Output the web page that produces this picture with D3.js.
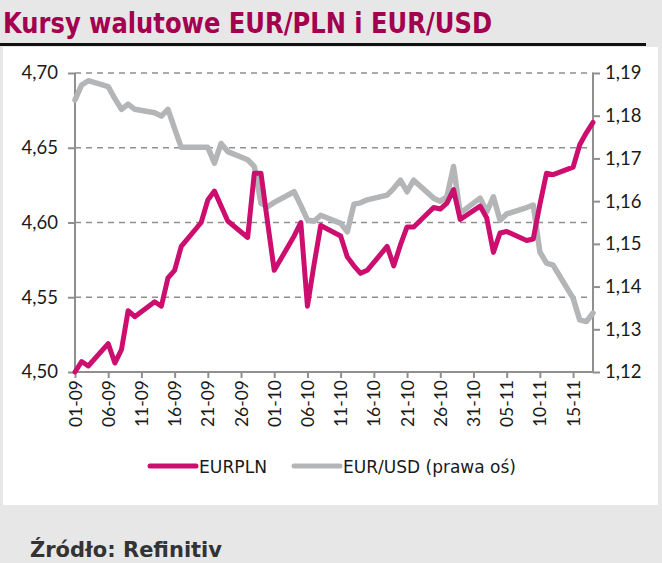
<!DOCTYPE html>
<html><head><meta charset="utf-8">
<script src="https://cdn.jsdelivr.net/npm/d3@7"></script>
<style>
html,body{margin:0;padding:0;background:#e7e7e7;}
svg{display:block;}
</style></head>
<body>
<svg id="chart" width="662" height="563"></svg>
<script>
// ---- data ----
const dates = ["2021-09-01","2021-09-02","2021-09-03","2021-09-06","2021-09-07","2021-09-08","2021-09-09","2021-09-10",
"2021-09-13","2021-09-14","2021-09-15","2021-09-16","2021-09-17","2021-09-20","2021-09-21","2021-09-22","2021-09-23","2021-09-24",
"2021-09-27","2021-09-28","2021-09-29","2021-09-30","2021-10-01","2021-10-04","2021-10-05","2021-10-06","2021-10-07","2021-10-08",
"2021-10-11","2021-10-12","2021-10-13","2021-10-14","2021-10-15","2021-10-18","2021-10-19","2021-10-20","2021-10-21","2021-10-22",
"2021-10-25","2021-10-26","2021-10-27","2021-10-28","2021-10-29","2021-11-01","2021-11-02","2021-11-03","2021-11-04","2021-11-05",
"2021-11-08","2021-11-09","2021-11-10","2021-11-11","2021-11-12","2021-11-15","2021-11-16","2021-11-17","2021-11-18"];
const eurpln = [4.500,4.507,4.504,4.519,4.506,4.515,4.541,4.537,
4.547,4.544,4.563,4.568,4.584,4.600,4.615,4.621,4.611,4.601,
4.590,4.633,4.633,4.600,4.568,4.591,4.600,4.544,4.572,4.598,
4.591,4.577,4.571,4.566,4.568,4.584,4.571,4.585,4.597,4.597,
4.610,4.609,4.613,4.622,4.602,4.611,4.603,4.580,4.593,4.594,
4.588,4.589,4.612,4.633,4.632,4.637,4.652,4.660,4.667];
const eurusd = [1.1837,1.1872,1.1882,1.1868,1.1840,1.1815,1.1827,1.1815,
1.1807,1.1799,1.1815,1.1770,1.1726,1.1726,1.1726,1.1689,1.1735,1.1716,
1.1697,1.1681,1.1595,1.1587,1.1597,1.1622,1.1590,1.1556,1.1553,1.1567,
1.1548,1.1528,1.1593,1.1596,1.1603,1.1614,1.1630,1.1649,1.1622,1.1649,
1.1607,1.1600,1.1610,1.1681,1.1572,1.1607,1.1575,1.1610,1.1555,1.1570,
1.1585,1.1591,1.1481,1.1455,1.1450,1.1373,1.1322,1.1318,1.1338];
const leftTicks = [4.50,4.55,4.60,4.65,4.70];
const rightTicks = [1.12,1.13,1.14,1.15,1.16,1.17,1.18,1.19];
const xTickDates = ["2021-09-01","2021-09-06","2021-09-11","2021-09-16","2021-09-21","2021-09-26","2021-10-01","2021-10-06",
"2021-10-11","2021-10-16","2021-10-21","2021-10-26","2021-10-31","2021-11-05","2021-11-10","2021-11-15"];
const seriesNames = ["EURPLN","EUR/USD (prawa oś)"];
const titleText = "Kursy walutowe EUR/PLN i EUR/USD";
const sourceText = "Źródło: Refinitiv";

// ---- drawing ----
const parse = d3.utcParse("%Y-%m-%d");
const svg = d3.select("#chart");
const pink = "#cc0f6f", grey = "#b3b5b7", axisCol = "#8f8f8f";
const fontMain = "'DejaVu Sans Condensed','DejaVu Sans',sans-serif";
const fontNum = "Lato,'Open Sans',sans-serif";

svg.append("rect").attr("x",0).attr("y",0).attr("width",662).attr("height",563).attr("fill","#e7e7e7");
svg.append("rect").attr("x",3).attr("y",47).attr("width",655).attr("height",458).attr("fill","#ffffff");
svg.append("rect").attr("x",0).attr("y",43).attr("width",646).attr("height",3).attr("fill","#111");

svg.append("text").attr("x",3).attr("y",33).text(titleText)
  .attr("font-family",fontMain).attr("font-size",28).attr("fill","#a3004f").attr("font-weight","bold")
  .attr("textLength",489).attr("lengthAdjust","spacingAndGlyphs");

const m = {l:75, r:593, t:73, b:372};
const x = d3.scaleUtc().domain([parse(dates[0]), parse(dates[dates.length-1])]).range([m.l, m.r]);
const yL = d3.scaleLinear().domain([4.50,4.70]).range([m.b, m.t]);
const yR = d3.scaleLinear().domain([1.12,1.19]).range([m.b, m.t]);

// gridlines
svg.append("g").selectAll("line").data(leftTicks.slice(1)).join("line")
  .attr("x1",m.l).attr("x2",m.r).attr("y1",d=>yL(d)).attr("y2",d=>yL(d))
  .attr("stroke",axisCol).attr("stroke-width",1.6).attr("stroke-dasharray","6,5");

const fmt = d3.format(".2f");
const comma = d => fmt(d).replace(".",",");

// left axis
const gL = svg.append("g").attr("transform",`translate(${m.l},0)`)
  .call(d3.axisLeft(yL).tickValues(leftTicks).tickFormat(comma).tickSize(7).tickPadding(10));
// right axis
const gR = svg.append("g").attr("transform",`translate(${m.r},0)`)
  .call(d3.axisRight(yR).tickValues(rightTicks).tickFormat(comma).tickSize(7).tickPadding(5));
// bottom axis
const gB = svg.append("g").attr("transform",`translate(0,${m.b})`)
  .call(d3.axisBottom(x).tickValues(xTickDates.map(parse)).tickFormat(d3.utcFormat("%d-%m")).tickSize(6).tickPadding(4));

[gL,gR,gB].forEach(g=>{
  g.select(".domain").attr("stroke",axisCol).attr("stroke-width",2);
  g.selectAll(".tick line").attr("stroke",axisCol).attr("stroke-width",2);
  g.selectAll("text").attr("font-family",fontNum).attr("font-size",18.5).attr("fill","#1a1a1a");
});
gL.select(".domain").attr("d",`M0,${m.t}V${m.b}`);
gR.select(".domain").attr("d",`M0,${m.t}V${m.b}`);
gB.select(".domain").attr("d",`M${m.l},0H${m.r}`);
gB.selectAll("text").attr("font-size",17.5).attr("transform","rotate(-90)")
  .attr("text-anchor","end").attr("dy","0.35em").attr("x",-8).attr("y",0);

// lines
const lineL = d3.line().x((d,i)=>x(parse(dates[i]))).y(d=>yL(d));
const lineR = d3.line().x((d,i)=>x(parse(dates[i]))).y(d=>yR(d));
svg.append("path").attr("d",lineR(eurusd)).attr("fill","none").attr("stroke",grey)
  .attr("stroke-width",5.5).attr("stroke-linejoin","round").attr("stroke-linecap","round");
svg.append("path").attr("d",lineL(eurpln)).attr("fill","none").attr("stroke",pink)
  .attr("stroke-width",5).attr("stroke-linejoin","round").attr("stroke-linecap","round");

// legend
const leg = svg.append("g").attr("font-family",fontMain).attr("font-size",18).attr("fill","#1a1a1a");
const legItems = [{name:seriesNames[0],c:pink,x:150,w:68},{name:seriesNames[1],c:grey,x:294,w:173}];
legItems.forEach(it=>{
  leg.append("line").attr("x1",it.x).attr("x2",it.x+46).attr("y1",466).attr("y2",466)
    .attr("stroke",it.c).attr("stroke-width",5).attr("stroke-linecap","round");
  leg.append("text").attr("x",it.x+49).attr("y",473).text(it.name)
    .attr("textLength",it.w).attr("lengthAdjust","spacingAndGlyphs");
});

svg.append("text").attr("x",30).attr("y",557).text(sourceText)
  .attr("font-family",fontMain).attr("font-size",22).attr("font-weight","bold").attr("fill","#333")
  .attr("textLength",192).attr("lengthAdjust","spacingAndGlyphs");
</script>
</body></html>
